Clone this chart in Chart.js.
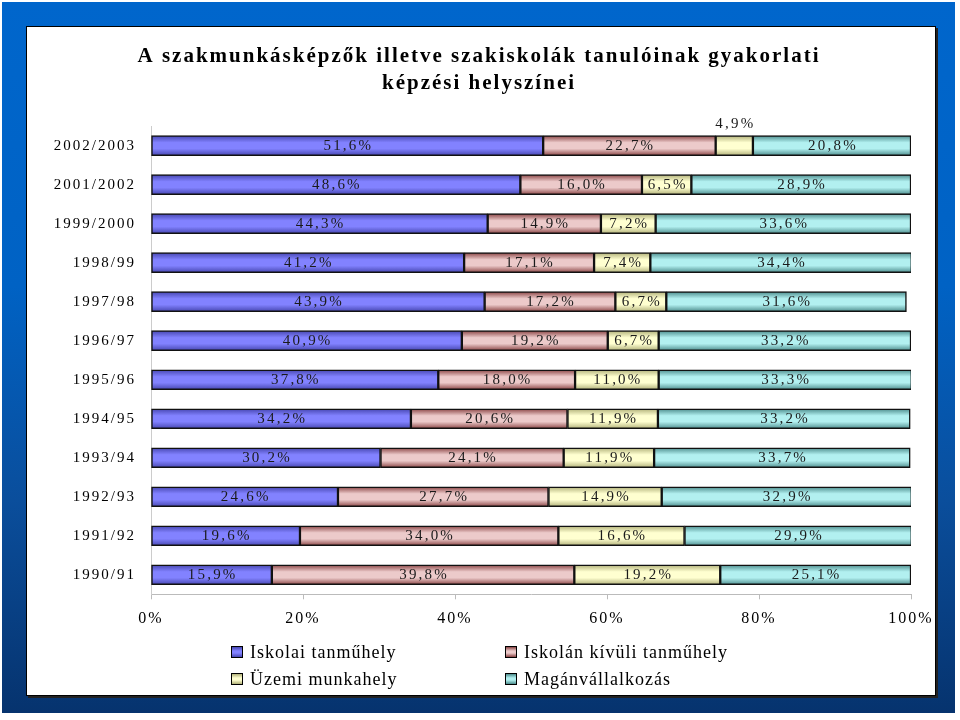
<!DOCTYPE html>
<html>
<head>
<meta charset="utf-8">
<script src="https://cdn.jsdelivr.net/npm/chart.js@4.4.1/dist/chart.umd.min.js"></script>
<style>
  html, body { margin: 0; padding: 0; background: #fff; }
  .frame {
    position: absolute; left: 2px; top: 2px; width: 953px; height: 711px;
    background: linear-gradient(180deg, #0066cc 0%, #0062c4 40%, #0a4e9c 70%, #06336e 100%);
  }
  .panel {
    position: absolute; left: 26px; top: 26px; width: 908px; height: 668px;
    background: #fff; border: 1.5px solid #000; box-shadow: 2px 2px 0 #222;
  }
  .panel canvas { position: absolute; left: 0; top: 0; }
  .legend { position: absolute; left: 0; top: 0; font-family: "Liberation Serif", "Times New Roman", serif;
    font-size: 18px; letter-spacing: 1px; color: #000; }
  .legend .item { position: absolute; white-space: nowrap; line-height: 20px; }
  .legend .box { display: inline-block; width: 10px; height: 10px; border: 1px solid #000;
    margin-right: 7px; vertical-align: 0px; }
</style>
</head>
<body>
<div class="frame"></div>
<div class="panel">
  <canvas id="chart" width="908" height="668"></canvas>
  <div class="legend" id="legend"></div>
</div>
<script>
const categories = ['2002/2003', '2001/2002', '1999/2000', '1998/99', '1997/98', '1996/97',
  '1995/96', '1994/95', '1993/94', '1992/93', '1991/92', '1990/91'];
const iskolai = [51.6, 48.6, 44.3, 41.2, 43.9, 40.9, 37.8, 34.2, 30.2, 24.6, 19.6, 15.9];
const kivuli = [22.7, 16.0, 14.9, 17.1, 17.2, 19.2, 18.0, 20.6, 24.1, 27.7, 34.0, 39.8];
const uzemi = [4.9, 6.5, 7.2, 7.4, 6.7, 6.7, 11.0, 11.9, 11.9, 14.9, 16.6, 19.2];
const magan = [20.8, 28.9, 33.6, 34.4, 31.6, 33.2, 33.3, 33.2, 33.7, 32.9, 29.9, 25.1];
const seriesNames = ['Iskolai tanműhely', 'Iskolán kívüli tanműhely', 'Üzemi munkahely', 'Magánvállalkozás'];
const xTicks = [0, 20, 40, 60, 80, 100];

const serif = '"Liberation Serif", "Times New Roman", serif';
const BAR = 20;

// edge / middle colours for the shaded bars
const shades = [
  { base: '#7878f0', edge: '#4646b0', mid: '#8282ff' },
  { base: '#c89898', edge: '#8a4444', mid: '#eccaca' },
  { base: '#ffffc0', edge: '#b0b078', mid: '#ffffd0' },
  { base: '#a0e0e0', edge: '#4c8c8c', mid: '#b2f0f0' },
];

function addStops(g, s) {
  g.addColorStop(0, s.edge);
  g.addColorStop(0.35, s.mid);
  g.addColorStop(0.65, s.mid);
  g.addColorStop(1, s.edge);
  return g;
}

const spacing = {
  id: 'spacing',
  beforeUpdate(chart) { chart.ctx.letterSpacing = '2px'; },
  beforeDraw(chart) { chart.ctx.letterSpacing = '2px'; },
};

// vertical shading on each bar, once the bars have their positions
const shading = {
  id: 'shading',
  beforeDatasetsDraw(chart) {
    const ctx = chart.ctx;
    chart.data.datasets.forEach((ds, di) => {
      chart.getDatasetMeta(di).data.forEach(bar => {
        const g = ctx.createLinearGradient(0, bar.y - BAR / 2, 0, bar.y + BAR / 2);
        bar.options = Object.assign({}, bar.options, { backgroundColor: addStops(g, shades[di]) });
      });
    });
  }
};

const segmentLabels = {
  id: 'segmentLabels',
  afterDatasetsDraw(chart) {
    const ctx = chart.ctx;
    ctx.save();
    ctx.font = '15px ' + serif;
    ctx.fillStyle = '#1a1a1a';
    ctx.textAlign = 'center';
    ctx.textBaseline = 'middle';
    ctx.letterSpacing = '2.2px';
    chart.data.datasets.forEach((ds, di) => {
      chart.getDatasetMeta(di).data.forEach((bar, i) => {
        const v = ds.data[i];
        const txt = v.toFixed(1).replace('.', ',') + '%';
        const x = (bar.x + bar.base) / 2 + 1;
        const y = v < 5 ? bar.y - 22 : bar.y;
        ctx.fillText(txt, x, y);
      });
    });
    ctx.restore();
  }
};

const datasets = [iskolai, kivuli, uzemi, magan].map((d, i) => ({
  label: seriesNames[i],
  data: d,
  backgroundColor: shades[i].base,
  borderColor: '#111',
  borderWidth: 1.5,
  borderSkipped: false,
  barThickness: BAR,
}));

new Chart(document.getElementById('chart'), {
  type: 'bar',
  data: { labels: categories, datasets },
  options: {
    indexAxis: 'y',
    responsive: false,
    animation: false,
    layout: { padding: { left: 20, right: 24, top: 0, bottom: 56.5 } },
    plugins: {
      legend: { display: false },
      tooltip: { enabled: false },
      title: {
        display: true,
        text: ['A szakmunkásképzők illetve szakiskolák tanulóinak gyakorlati', 'képzési helyszínei'],
        color: '#000',
        font: { family: serif, size: 21, weight: 'bold', lineHeight: 1.3 },
        padding: { top: 16, bottom: 28.5 },
      },
    },
    scales: {
      x: {
        stacked: true,
        min: 0,
        max: 100,
        afterBuildTicks(scale) { scale.ticks = xTicks.map(v => ({ value: v })); },
        afterFit(scale) { scale.paddingLeft = 0; scale.paddingRight = 0; },
        ticks: {
          color: '#000',
          font: { family: serif, size: 16 },
          padding: 10,
          maxRotation: 0,
          callback: v => v + '%',
        },
        grid: { drawOnChartArea: false, color: '#bbb', tickLength: 5 },
        border: { color: '#bbb' },
      },
      y: {
        stacked: true,
        afterFit(scale) { scale.width = 104; },
        ticks: {
          color: '#000',
          font: { family: serif, size: 15 },
          padding: 15,
        },
        grid: { display: false, drawTicks: false },
        border: { color: '#ccc' },
      },
    },
  },
  plugins: [spacing, shading, segmentLabels],
});

// legend, 2 x 2 grid
const legendPos = [[204, 615], [478, 615], [204, 642], [478, 642]];
const legend = document.getElementById('legend');
seriesNames.forEach((name, i) => {
  const s = shades[i];
  const el = document.createElement('div');
  el.className = 'item';
  el.style.left = legendPos[i][0] + 'px';
  el.style.top = legendPos[i][1] + 'px';
  el.innerHTML = '<span class="box" style="background:linear-gradient(180deg,' + s.edge + ',' + s.mid + ' 40%,' +
    s.mid + ' 60%,' + s.edge + ')"></span>' + name;
  legend.appendChild(el);
});
</script>
</body>
</html>
